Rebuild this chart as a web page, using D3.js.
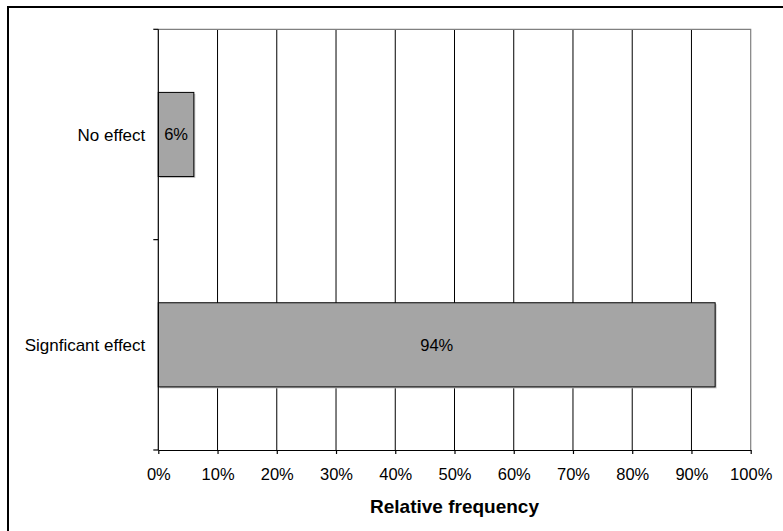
<!DOCTYPE html>
<html>
<head>
<meta charset="utf-8">
<script src="https://cdn.jsdelivr.net/npm/d3@7"></script>
<style>
  html, body { margin: 0; padding: 0; background: #fff; }
  svg { display: block; }
  text { font-family: Arial, "Liberation Sans", sans-serif; fill: #000; }
</style>
</head>
<body>
<svg id="chart" width="783" height="531"></svg>
<script>
// Outcome categories, top to bottom
const categories = ["No effect", "Signficant effect"];
// Relative frequency of each outcome (%)
const values = [6, 94];
// Bar labels as printed on the bars
const valueLabels = ["6%", "94%"];
// X-axis ticks (%)
const xTicks = [0, 10, 20, 30, 40, 50, 60, 70, 80, 90, 100];
const xTitle = "Relative frequency";

const svg = d3.select("#chart");
const W = 783, H = 531;
const plot = { left: 158.3, right: 750.7, top: 29.3, bottom: 450 };

// Outer chart frame (left and top edges fall inside the canvas)
svg.append("rect")
  .attr("x", 8).attr("y", 7)
  .attr("width", W + 20).attr("height", H + 20)
  .attr("fill", "#fff").attr("stroke", "#000").attr("stroke-width", 2);

const x = d3.scaleLinear().domain([0, 100]).range([plot.left, plot.right]);
const y = d3.scaleBand().domain(categories).range([plot.top, plot.bottom])
  .paddingInner(0.6).paddingOuter(0.3);
const yGroup = d3.scaleBand().domain(categories).range([plot.top, plot.bottom]);

// Vertical gridlines
svg.append("g").selectAll("line")
  .data(xTicks.filter(t => t > 0 && t < 100))
  .join("line")
  .attr("x1", d => x(d)).attr("x2", d => x(d))
  .attr("y1", plot.top).attr("y2", plot.bottom)
  .attr("stroke", "#000").attr("stroke-width", 1);

// Plot-area border (top and right, grey)
svg.append("path")
  .attr("d", `M${plot.left},${plot.top}H${plot.right}V${plot.bottom}`)
  .attr("fill", "none").attr("stroke", "#808080").attr("stroke-width", 1.2);

// Bars with a light drop shadow
const bars = svg.append("g");
bars.selectAll("rect.shadow")
  .data(values)
  .join("rect")
  .attr("class", "shadow")
  .attr("x", plot.left + 1.5)
  .attr("y", (d, i) => y(categories[i]) + 1.5)
  .attr("width", d => x(d) - plot.left)
  .attr("height", y.bandwidth())
  .attr("fill", "#c8c8c8");
bars.selectAll("rect.bar")
  .data(values)
  .join("rect")
  .attr("class", "bar")
  .attr("x", plot.left)
  .attr("y", (d, i) => y(categories[i]))
  .attr("width", d => x(d) - plot.left)
  .attr("height", y.bandwidth())
  .attr("fill", "#a5a5a5").attr("stroke", "#000").attr("stroke-width", 1);

// Value labels centred on each bar
bars.selectAll("text")
  .data(values)
  .join("text")
  .attr("x", d => (x(0) + x(d)) / 2)
  .attr("y", (d, i) => y(categories[i]) + y.bandwidth() / 2)
  .attr("dy", "0.36em")
  .attr("text-anchor", "middle")
  .style("font-size", "16.5px")
  .text((d, i) => valueLabels[i]);

// X axis
const xAxis = d3.axisBottom(x).tickValues(xTicks).tickFormat(d => d + "%")
  .tickSize(4).tickSizeOuter(0).tickPadding(14);
const gx = svg.append("g").attr("transform", `translate(0,${plot.bottom})`).call(xAxis);
gx.select(".domain").attr("stroke", "#000").attr("stroke-width", 1.2);
gx.selectAll(".tick line").attr("stroke", "#000").attr("stroke-width", 1.2);
gx.selectAll(".tick text").style("font-size", "16.5px").attr("fill", "#000");

// Y axis: ticks at category boundaries, labels at category centres
const gy = svg.append("g");
gy.append("line")
  .attr("x1", plot.left).attr("x2", plot.left)
  .attr("y1", plot.top).attr("y2", plot.bottom)
  .attr("stroke", "#000").attr("stroke-width", 1.2);
const boundaries = categories.map(c => yGroup(c)).concat([plot.bottom]);
gy.selectAll("line.tick")
  .data(boundaries)
  .join("line")
  .attr("class", "tick")
  .attr("x1", plot.left - 5).attr("x2", plot.left)
  .attr("y1", d => d).attr("y2", d => d)
  .attr("stroke", "#000").attr("stroke-width", 1.2);
gy.selectAll("text")
  .data(categories)
  .join("text")
  .attr("x", plot.left - 13)
  .attr("y", d => yGroup(d) + yGroup.bandwidth() / 2)
  .attr("dy", "0.36em")
  .attr("text-anchor", "end")
  .style("font-size", "17px")
  .text(d => d);

// Axis title
svg.append("text")
  .attr("x", (plot.left + plot.right) / 2)
  .attr("y", 513)
  .attr("text-anchor", "middle")
  .style("font-size", "19px")
  .style("font-weight", "bold")
  .text(xTitle);
</script>
</body>
</html>
